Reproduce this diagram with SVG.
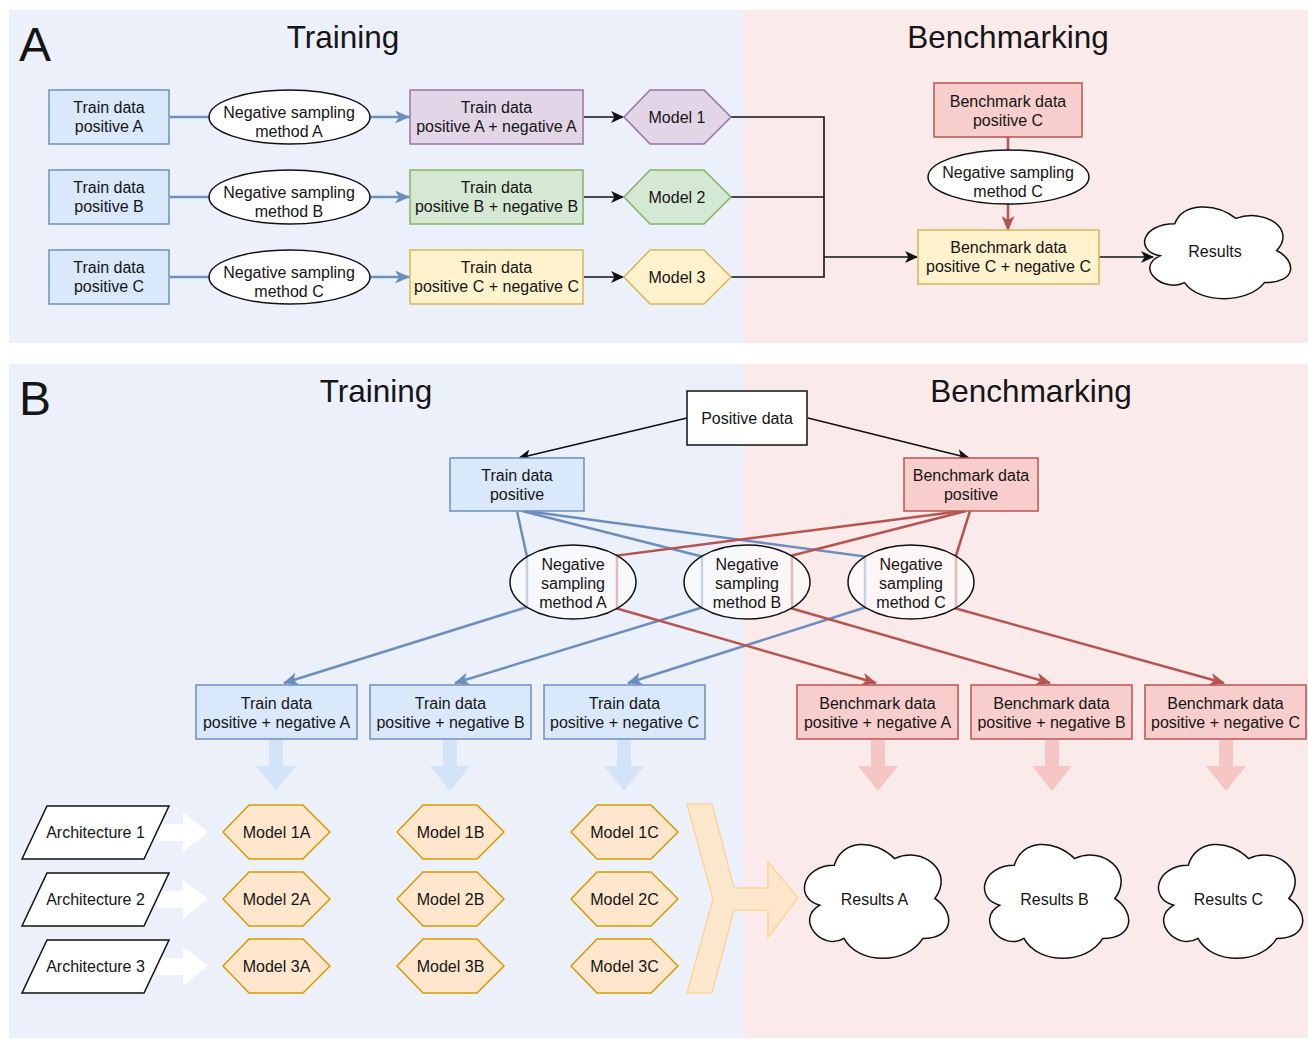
<svg xmlns="http://www.w3.org/2000/svg" width="1308" height="1040" viewBox="0 0 1308 1040">
<style>
text{font-family:"Liberation Sans",Arial,sans-serif;font-size:16px;fill:#151515;text-anchor:middle}
.hdr{font-size:31.5px}
.lbl{font-size:48px;text-anchor:start}
.blue{fill:#dae8fc;stroke:#6c8ebf;stroke-width:1.5}
.red{fill:#f8cecc;stroke:#b85450;stroke-width:1.5}
.purple{fill:#e1d5e7;stroke:#9673a6;stroke-width:1.5}
.green{fill:#d5e8d4;stroke:#82b366;stroke-width:1.5}
.yellow{fill:#fff2cc;stroke:#d6b656;stroke-width:1.5}
.orange{fill:#ffe6cc;stroke:#d79b00;stroke-width:1.5}
.plain{fill:#fff;stroke:#111;stroke-width:1.5}
.ell{fill:#fff;fill-opacity:0.6;stroke:#111;stroke-width:1.5}
.cb{fill:none;stroke:#6c8ebf;stroke-width:2.5}
.cr{fill:none;stroke:#b85450;stroke-width:2.5}
.ck{fill:none;stroke:#111;stroke-width:1.6}
.fatb{fill:#d3e3f8}
.fatr{fill:#f6c6c5}
.fatw{fill:#fff}
</style>
<defs>
<marker id="mb" markerUnits="userSpaceOnUse" markerWidth="15" markerHeight="13" refX="14" refY="6.5" orient="auto"><path d="M0,0 L15,6.5 L0,13 L4,6.5 Z" fill="#6c8ebf"/></marker>
<marker id="mr" markerUnits="userSpaceOnUse" markerWidth="15" markerHeight="13" refX="14" refY="6.5" orient="auto"><path d="M0,0 L15,6.5 L0,13 L4,6.5 Z" fill="#b85450"/></marker>
<marker id="mk" markerUnits="userSpaceOnUse" markerWidth="13" markerHeight="12" refX="12" refY="6" orient="auto"><path d="M0,0 L13,6 L0,12 L3.5,6 Z" fill="#111"/></marker>
<path id="cloudB" d="M834.25,865.25 C802.05,865.25 794,898.5 819.76,905.15 C794,919.78 822.98,951.7 843.91,938.4 C858.4,965 906.7,965 922.8,938.4 C955,938.4 955,911.8 934.875,898.5 C955,871.9 922.8,845.3 894.625,858.6 C874.5,838.65 842.3,838.65 834.25,865.25 Z"/>
</defs>

<g id="backgrounds">
<rect x="9" y="10" width="734" height="333" fill="#ecf0fb"/>
<rect x="743" y="10" width="565" height="333" fill="#faeaea"/>
<rect x="9" y="364" width="734" height="674" fill="#ecf0fb"/>
<rect x="743" y="364" width="565" height="674" fill="#faeaea"/>
</g>

<g id="titles">
<text class="lbl" x="19" y="61">A</text>
<text class="hdr" x="343" y="48">Training</text>
<text class="hdr" x="1008" y="48">Benchmarking</text>
<text class="lbl" x="19" y="415">B</text>
<text class="hdr" x="376" y="402">Training</text>
<text class="hdr" x="1031" y="402">Benchmarking</text>
</g>

<g id="connectors">
<!-- Panel A -->
<line class="cb" x1="170" y1="117" x2="209" y2="117"/>
<line class="cb" x1="170" y1="197" x2="209" y2="197"/>
<line class="cb" x1="170" y1="277" x2="209" y2="277"/>
<line class="cb" x1="370" y1="117" x2="409" y2="117" marker-end="url(#mb)"/>
<line class="cb" x1="370" y1="197" x2="409" y2="197" marker-end="url(#mb)"/>
<line class="cb" x1="370" y1="277" x2="409" y2="277" marker-end="url(#mb)"/>
<line class="ck" x1="584" y1="117" x2="623" y2="117" marker-end="url(#mk)"/>
<line class="ck" x1="584" y1="197" x2="623" y2="197" marker-end="url(#mk)"/>
<line class="ck" x1="584" y1="277" x2="623" y2="277" marker-end="url(#mk)"/>
<polyline class="ck" points="731,117 824,117 824,277 731,277"/>
<line class="ck" x1="731" y1="197" x2="824" y2="197"/>
<line class="ck" x1="824" y1="257" x2="917" y2="257" marker-end="url(#mk)"/>
<line class="ck" x1="1099" y1="257" x2="1153" y2="257" marker-end="url(#mk)"/>
<line class="cr" x1="1008" y1="137" x2="1008" y2="150"/>
<line class="cr" x1="1008" y1="204" x2="1008" y2="230" marker-end="url(#mr)"/>
<!-- Panel B -->
<line class="ck" x1="687" y1="418" x2="519" y2="458" marker-end="url(#mk)"/>
<line class="ck" x1="808" y1="418" x2="969" y2="458" marker-end="url(#mk)"/>
<polyline class="cb" points="517,511 527,557 527,607 284,683" marker-end="url(#mb)"/>
<polyline class="cb" points="522,511 702,556.5 702,607.5 455,683" marker-end="url(#mb)"/>
<polyline class="cb" points="526,511 865,556.5 865,607.5 628,683" marker-end="url(#mb)"/>
<polyline class="cr" points="962,511 617,555.5 617,608.5 876,683" marker-end="url(#mr)"/>
<polyline class="cr" points="966,511 792,555.5 792,608.5 1050,683" marker-end="url(#mr)"/>
<polyline class="cr" points="970,511 956,555.5 956,608.5 1224,683" marker-end="url(#mr)"/>
<!-- fat arrows -->
<polygon class="fatb" points="269,740 283,740 283,766 296,766 276,791 256,766 269,766"/>
<polygon class="fatb" points="443,740 457,740 457,766 470,766 450,791 430,766 443,766"/>
<polygon class="fatb" points="617,740 631,740 631,766 644,766 624,791 604,766 617,766"/>
<polygon class="fatr" points="871,740 885,740 885,766 898,766 878,791 858,766 871,766"/>
<polygon class="fatr" points="1045,740 1059,740 1059,766 1072,766 1052,791 1032,766 1045,766"/>
<polygon class="fatr" points="1219,740 1233,740 1233,766 1246,766 1226,791 1206,766 1219,766"/>
<polygon class="fatw" points="157,824 183,824 183,813 208,832 183,852 183,841 157,841"/>
<polygon class="fatw" points="157,891 183,891 183,880 208,899 183,919 183,908 157,908"/>
<polygon class="fatw" points="157,958 183,958 183,947 208,966 183,986 183,975 157,975"/>
<polygon points="687,804 712,804 734,888 768,888 768,862 798,898 768,937 768,910 734,910 712,993 687,993 713,899" fill="#fde5c7" fill-opacity="0.9" stroke="#fcd49a" stroke-width="1.5"/>
</g>

<!-- Panel A nodes -->
<g id="a-train-a"><rect class="blue" x="49" y="90" width="120" height="54"/><text x="109" y="113">Train data</text><text x="109" y="132">positive A</text></g>
<g id="a-train-b"><rect class="blue" x="49" y="170" width="120" height="54"/><text x="109" y="193">Train data</text><text x="109" y="212">positive B</text></g>
<g id="a-train-c"><rect class="blue" x="49" y="250" width="120" height="54"/><text x="109" y="273">Train data</text><text x="109" y="292">positive C</text></g>
<g id="a-neg-a"><ellipse class="plain" cx="289.5" cy="117" rx="80.5" ry="27"/><text x="289" y="118">Negative sampling</text><text x="289" y="137">method A</text></g>
<g id="a-neg-b"><ellipse class="plain" cx="289.5" cy="197" rx="80.5" ry="27"/><text x="289" y="198">Negative sampling</text><text x="289" y="217">method B</text></g>
<g id="a-neg-c"><ellipse class="plain" cx="289.5" cy="277" rx="80.5" ry="27"/><text x="289" y="278">Negative sampling</text><text x="289" y="297">method C</text></g>
<g id="a-mix-a"><rect class="purple" x="410" y="90" width="173" height="54"/><text x="496.5" y="113">Train data</text><text x="496.5" y="132">positive A + negative A</text></g>
<g id="a-mix-b"><rect class="green" x="410" y="170" width="173" height="54"/><text x="496.5" y="193">Train data</text><text x="496.5" y="212">positive B + negative B</text></g>
<g id="a-mix-c"><rect class="yellow" x="410" y="250" width="173" height="54"/><text x="496.5" y="273">Train data</text><text x="496.5" y="292">positive C + negative C</text></g>
<g id="a-model-1"><polygon class="purple" points="624,117 650,90 704,90 731,117 704,144 650,144"/><text x="677" y="123">Model 1</text></g>
<g id="a-model-2"><polygon class="green" points="624,197 650,170 704,170 731,197 704,224 650,224"/><text x="677" y="203">Model 2</text></g>
<g id="a-model-3"><polygon class="yellow" points="624,277 650,250 704,250 731,277 704,304 650,304"/><text x="677" y="283">Model 3</text></g>
<g id="a-bench-pos"><rect class="red" x="934" y="83" width="148" height="54"/><text x="1008" y="107">Benchmark data</text><text x="1008" y="126">positive C</text></g>
<g id="a-bench-neg"><ellipse class="plain" cx="1008.5" cy="177" rx="80.5" ry="27"/><text x="1008" y="178">Negative sampling</text><text x="1008" y="197">method C</text></g>
<g id="a-bench-mix"><rect class="yellow" x="918" y="230" width="181" height="54"/><text x="1008.5" y="253">Benchmark data</text><text x="1008.5" y="272">positive C + negative C</text></g>
<g id="a-results"><path class="plain" d="M1174.75,223.75 C1142.15,223.75 1134,250.5 1160.08,255.85 C1134,267.62 1163.34,293.3 1184.53,282.6 C1199.2,304 1248.1,304 1264.4,282.6 C1297,282.6 1297,261.2 1276.63,250.5 C1297,229.1 1264.4,207.7 1235.88,218.4 C1215.5,202.35 1182.9,202.35 1174.75,223.75 Z"/><text x="1215" y="257">Results</text></g>

<!-- Panel B nodes -->
<g id="b-positive"><rect class="plain" x="687" y="391" width="120" height="54"/><text x="747" y="424">Positive data</text></g>
<g id="b-train-pos"><rect class="blue" x="450" y="458" width="134" height="53"/><text x="517" y="481">Train data</text><text x="517" y="500">positive</text></g>
<g id="b-bench-pos"><rect class="red" x="904" y="458" width="134" height="53"/><text x="971" y="481">Benchmark data</text><text x="971" y="500">positive</text></g>
<g id="b-neg-a"><ellipse class="ell" cx="573" cy="582" rx="63" ry="37"/><text x="573" y="570">Negative</text><text x="573" y="589">sampling</text><text x="573" y="608">method A</text></g>
<g id="b-neg-b"><ellipse class="ell" cx="747" cy="582" rx="63" ry="37"/><text x="747" y="570">Negative</text><text x="747" y="589">sampling</text><text x="747" y="608">method B</text></g>
<g id="b-neg-c"><ellipse class="ell" cx="911" cy="582" rx="63" ry="37"/><text x="911" y="570">Negative</text><text x="911" y="589">sampling</text><text x="911" y="608">method C</text></g>
<g id="b-train-a"><rect class="blue" x="196" y="685" width="161" height="54"/><text x="276.5" y="709">Train data</text><text x="276.5" y="728">positive + negative A</text></g>
<g id="b-train-b"><rect class="blue" x="370" y="685" width="161" height="54"/><text x="450.5" y="709">Train data</text><text x="450.5" y="728">positive + negative B</text></g>
<g id="b-train-c"><rect class="blue" x="544" y="685" width="161" height="54"/><text x="624.5" y="709">Train data</text><text x="624.5" y="728">positive + negative C</text></g>
<g id="b-bench-a"><rect class="red" x="797" y="685" width="161" height="54"/><text x="877.5" y="709">Benchmark data</text><text x="877.5" y="728">positive + negative A</text></g>
<g id="b-bench-b"><rect class="red" x="971" y="685" width="161" height="54"/><text x="1051.5" y="709">Benchmark data</text><text x="1051.5" y="728">positive + negative B</text></g>
<g id="b-bench-c"><rect class="red" x="1145" y="685" width="161" height="54"/><text x="1225.5" y="709">Benchmark data</text><text x="1225.5" y="728">positive + negative C</text></g>
<g id="b-arch-1"><polygon class="plain" points="47,806 169,806 144,859 22,859"/><text x="95.5" y="838">Architecture 1</text></g>
<g id="b-arch-2"><polygon class="plain" points="47,873 169,873 144,926 22,926"/><text x="95.5" y="905">Architecture 2</text></g>
<g id="b-arch-3"><polygon class="plain" points="47,940 169,940 144,993 22,993"/><text x="95.5" y="972">Architecture 3</text></g>
<g id="b-model-1a"><polygon class="orange" points="223,832 249,805 303,805 330,832 303,859 249,859"/><text x="276.5" y="838">Model 1A</text></g>
<g id="b-model-2a"><polygon class="orange" points="223,899 249,872 303,872 330,899 303,926 249,926"/><text x="276.5" y="905">Model 2A</text></g>
<g id="b-model-3a"><polygon class="orange" points="223,966 249,939 303,939 330,966 303,993 249,993"/><text x="276.5" y="972">Model 3A</text></g>
<g id="b-model-1b"><polygon class="orange" points="397,832 423,805 477,805 504,832 477,859 423,859"/><text x="450.5" y="838">Model 1B</text></g>
<g id="b-model-2b"><polygon class="orange" points="397,899 423,872 477,872 504,899 477,926 423,926"/><text x="450.5" y="905">Model 2B</text></g>
<g id="b-model-3b"><polygon class="orange" points="397,966 423,939 477,939 504,966 477,993 423,993"/><text x="450.5" y="972">Model 3B</text></g>
<g id="b-model-1c"><polygon class="orange" points="571,832 597,805 651,805 678,832 651,859 597,859"/><text x="624.5" y="838">Model 1C</text></g>
<g id="b-model-2c"><polygon class="orange" points="571,899 597,872 651,872 678,899 651,926 597,926"/><text x="624.5" y="905">Model 2C</text></g>
<g id="b-model-3c"><polygon class="orange" points="571,966 597,939 651,939 678,966 651,993 597,993"/><text x="624.5" y="972">Model 3C</text></g>
<g id="b-results-a"><use href="#cloudB" class="plain"/><text x="874.5" y="905">Results A</text></g>
<g id="b-results-b"><use href="#cloudB" class="plain" transform="translate(180,0)"/><text x="1054.5" y="905">Results B</text></g>
<g id="b-results-c"><use href="#cloudB" class="plain" transform="translate(354,0)"/><text x="1228.5" y="905">Results C</text></g>
</svg>
